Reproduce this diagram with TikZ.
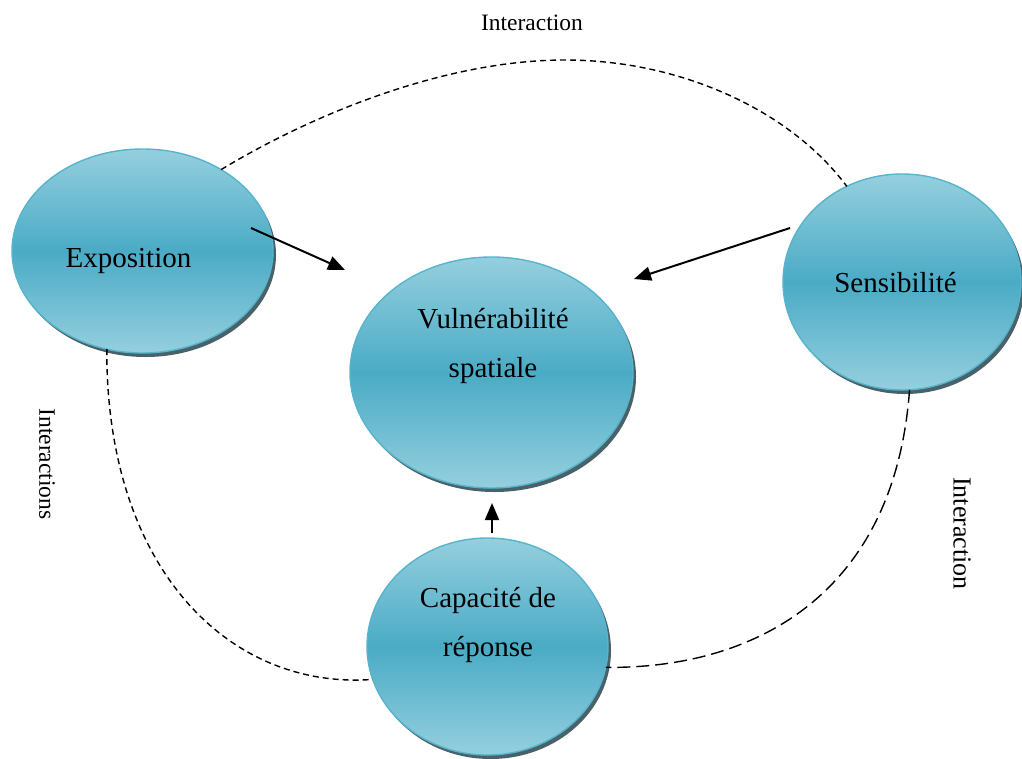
\documentclass[tikz,border=0pt]{standalone}
\usepackage{fontspec}
\setmainfont{Liberation Serif}
\usetikzlibrary{shapes.geometric,arrows.meta,shadows}
\definecolor{lightc}{HTML}{95CFDE}
\definecolor{darkc}{HTML}{4AABC5}
\definecolor{edgec}{HTML}{56B4CC}
\definecolor{shadowc}{HTML}{3F5A62}
\begin{document}
\begin{tikzpicture}[x=1pt,y=-1pt,
  bubble/.style={ellipse, draw=edgec, line width=1.4pt, outer sep=0pt, inner sep=0pt,
    top color=lightc, bottom color=lightc, middle color=darkc,
    drop shadow={shadow xshift=3pt, shadow yshift=-4pt, fill=shadowc, opacity=0.95}},
  btext/.style={font=\fontsize{29}{49}\selectfont, align=center, anchor=base, inner sep=0pt},
  ltext/.style={inner sep=0pt},
  infl/.style={line width=2pt, -{Triangle[length=17pt,width=14pt]}},
  inter/.style={line width=1.4pt, dash pattern=on 6pt off 4pt},
  interlong/.style={line width=1.4pt, dash pattern=on 13pt off 6pt}]
\useasboundingbox (0,0) rectangle (1022,758);
% ellipses
\node[bubble, minimum width=261pt, minimum height=204pt] (expo) at (142.5,251) {};
\node[bubble, minimum width=283pt, minimum height=231pt] (vuln) at (491.5,372.5) {};
\node[bubble, minimum width=238pt, minimum height=216pt] (sens) at (902,282) {};
\node[bubble, minimum width=241pt, minimum height=217pt] (capa) at (487.5,646.5) {};
% texts
\node[btext] (expoT) at (128.5,267) {Exposition};
\node[btext] (sensT) at (895.5,292) {Sensibilité};
\node[btext] (vulnT) at (493,377) {Vulnérabilité\\spatiale};
\node[btext] (capaT) at (488,656) {Capacité de\\réponse};
% labels
\node[ltext, font=\fontsize{23.5}{28}\selectfont, anchor=base] (labTop) at (532,30) {Interaction};
\node[ltext, font=\fontsize{23.5}{28}\selectfont, rotate=-90] (labLeft) at (47,464) {Interactions};
\node[ltext, font=\fontsize{26}{30}\selectfont, rotate=-90] (labRight) at (962,533.5) {Interaction};
% arrow end points
\coordinate (a1s) at (251,228);
\coordinate (a1e) at (345,270);
\coordinate (a2s) at (790,228);
\coordinate (a2e) at (634,279);
\coordinate (a3s) at (492,533);
\coordinate (a3e) at (492,503);
\draw[infl] (a1s) -- (a1e);
\draw[infl] (a2s) -- (a2e);
\draw[infl] (a3s) -- (a3e);
% interaction curves
\coordinate (peak) at (565,60);
\draw[inter] (expo.46) .. controls (320,110) and (450,60) .. (peak)
             .. controls (680,60) and (790,110) .. (sens.120);
\draw[inter] (expo.-110) .. controls (106,570) and (230,690) .. (capa.196);
\draw[interlong] (sens.-86) .. controls (895,590) and (760,669) .. (capa.-10);
\end{tikzpicture}
\end{document}
